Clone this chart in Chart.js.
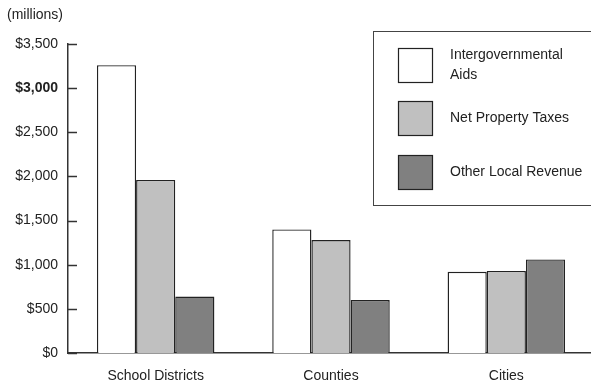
<!DOCTYPE html>
<html>
<head>
<meta charset="utf-8">
<script src="https://cdn.jsdelivr.net/npm/chart.js@4/dist/chart.umd.min.js"></script>
<style>
  html, body { margin: 0; padding: 0; background: #fff; overflow: hidden; }
  #wrap { width: 594px; height: 385px; position: relative; }
</style>
</head>
<body>
<div id="wrap"><canvas id="revChart"></canvas></div>
<script>
// revenue by government type, in millions of dollars
const categories = ['School Districts', 'Counties', 'Cities'];
const seriesNames = [['Intergovernmental', 'Aids'], ['Net Property Taxes'], ['Other Local Revenue']];
const intergovAids = [3260, 1400, 920];
const propertyTaxes = [1960, 1280, 930];
const otherRevenue = [640, 600, 1060];
const yTicks = [0, 500, 1000, 1500, 2000, 2500, 3000, 3500];

const fills = ['#ffffff', '#c0c0c0', '#808080'];
const ink = '#222222';
const fontFamily = '"Liberation Sans", Arial, sans-serif';

const seriesValues = [intergovAids, propertyTaxes, otherRevenue];

// inward tick marks on the y axis, the units note and the boxed legend
const decorations = {
    id: 'decorations',
    afterDraw(chart) {
        const ctx = chart.ctx;
        const y = chart.scales.y;
        const left = chart.chartArea.left;
        ctx.save();
        ctx.strokeStyle = '#333';
        ctx.lineWidth = 1.5;
        yTicks.forEach(v => {
            const py = Math.round(y.getPixelForValue(v)) + 0.5;
            ctx.beginPath();
            ctx.moveTo(left, py);
            ctx.lineTo(left + 9, py);
            ctx.stroke();
        });

        ctx.fillStyle = ink;
        ctx.font = '14px ' + fontFamily;
        ctx.textBaseline = 'middle';
        ctx.textAlign = 'left';
        ctx.fillText('(millions)', 7, 15);

        // legend box
        const bx = 373.5, by = 31.5, bw = 230, bh = 174;
        ctx.fillStyle = '#fff';
        ctx.fillRect(bx, by, bw, bh);
        ctx.strokeStyle = '#444';
        ctx.lineWidth = 1;
        ctx.strokeRect(bx, by, bw, bh);

        const rows = [48, 101, 155];
        chart.data.datasets.forEach((ds, i) => {
            const sy = rows[i];
            ctx.fillStyle = ds.backgroundColor;
            ctx.fillRect(398.5, sy + 0.5, 34, 34);
            ctx.strokeStyle = ink;
            ctx.lineWidth = 1.2;
            ctx.strokeRect(398.5, sy + 0.5, 34, 34);
            ctx.fillStyle = ink;
            const lines = seriesNames[i];
            if (lines.length === 1) {
                ctx.fillText(lines[0], 450, sy + 17);
            } else {
                ctx.fillText(lines[0], 450, sy + 7);
                ctx.fillText(lines[1], 450, sy + 27);
            }
        });
        ctx.restore();
    }
};

new Chart(document.getElementById('revChart'), {
    type: 'bar',
    data: {
        labels: categories,
        datasets: seriesValues.map((vals, i) => ({
            label: seriesNames[i].join(' '),
            data: vals,
            backgroundColor: fills[i],
            borderColor: ink,
            borderWidth: 1.4,
            barPercentage: 1,
            categoryPercentage: 0.67
        }))
    },
    options: {
        responsive: true,
        maintainAspectRatio: false,
        animation: false,
        layout: { padding: { top: 44, left: 0, right: 0, bottom: 0 } },
        plugins: {
            legend: { display: false },
            tooltip: { enabled: false }
        },
        scales: {
            x: {
                grid: { display: false, drawTicks: false },
                border: { display: true, color: '#333', width: 1.5 },
                ticks: { color: ink, padding: 15, font: { family: fontFamily, size: 14 } },
                afterFit: s => { s.height = 32; }
            },
            y: {
                min: 0,
                max: 3500,
                afterBuildTicks: s => { s.ticks = yTicks.map(v => ({ value: v })); },
                grid: { display: false, drawTicks: false },
                border: { display: true, color: '#333', width: 1.5 },
                ticks: {
                    color: ink,
                    padding: 10,
                    font: c => ({ family: fontFamily, size: 14, weight: c.tick && c.tick.value === 3000 ? 'bold' : 'normal' }),
                    callback: v => '$' + v.toLocaleString('en-US')
                },
                afterFit: s => { s.width = 68; }
            }
        }
    },
    plugins: [decorations]
});
</script>
</body>
</html>
